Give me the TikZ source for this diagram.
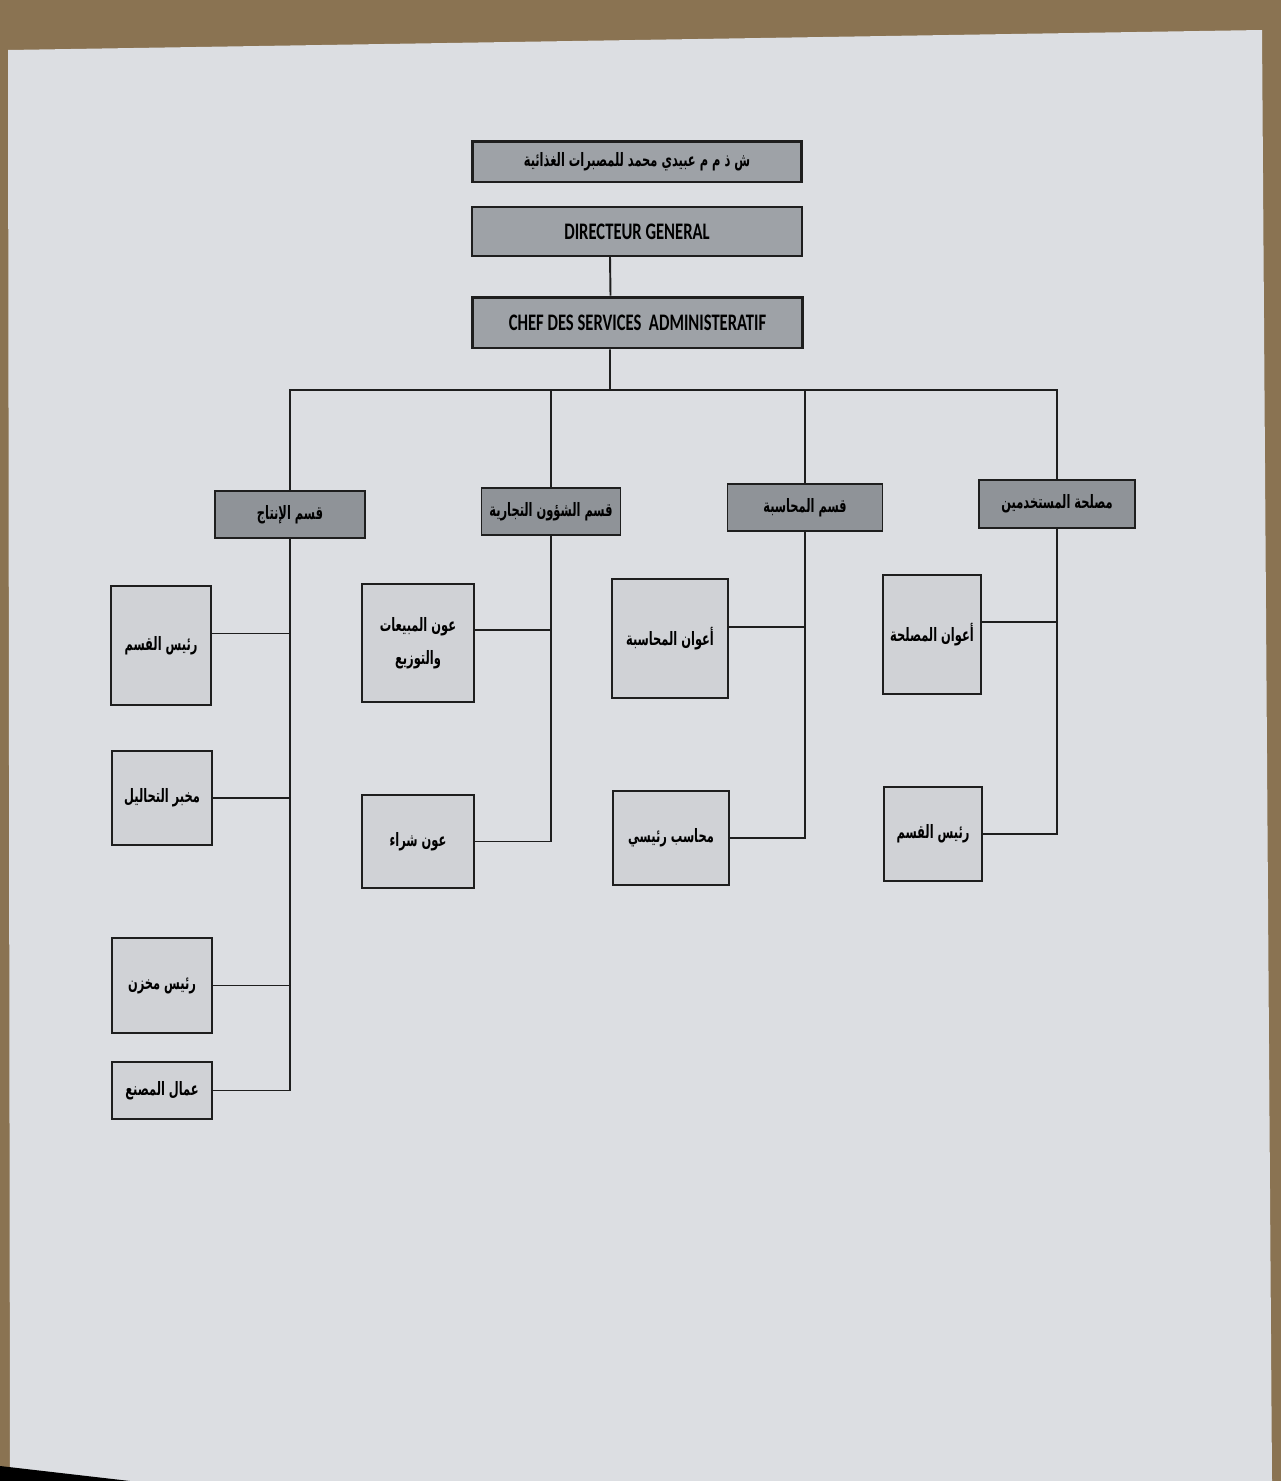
\documentclass[tikz,border=0pt]{standalone}
\usepackage{fontspec}
\setmainfont{Carlito}
\newfontfamily\narrowfont[FakeStretch=0.7]{Carlito}
\newfontfamily\arabicfont[Script=Arabic, FakeStretch=0.62]{DejaVu Sans}
\usepackage{tikz}
\usetikzlibrary{calc}
\TeXXeTstate=1
\definecolor{wood}{HTML}{8A7352}
\definecolor{paper}{HTML}{DCDEE2}
\definecolor{headgrey}{HTML}{9EA2A7}
\definecolor{deptgrey}{HTML}{8F9398}
\definecolor{boxgrey}{HTML}{D0D2D6}
\definecolor{ink}{HTML}{1E1E1E}

\begin{document}
\begin{tikzpicture}[x=0.02cm, y=-0.02cm,
		head/.style={draw=ink, fill=headgrey, line width=1.7pt, inner sep=0pt, minimum width=6.6cm, font=\narrowfont\bfseries\fontsize{13.5}{15}\selectfont},
		dept/.style={draw=ink, fill=deptgrey, line width=1.1pt, inner sep=0pt, minimum height=0.94cm, font=\arabicfont\bfseries\fontsize{10.5}{12}\selectfont},
		job/.style={draw=ink, fill=boxgrey, line width=1.1pt, inner sep=0pt, align=center, font=\arabicfont\bfseries\fontsize{10.5}{19}\selectfont},
		link/.style={draw=ink, line width=1.1pt}]
		\useasboundingbox (0,0) rectangle (1281,1481);
		% the sheet of paper
		\fill[wood] (0,0) rectangle (1281,1481);
		\fill[paper] (8,50) -- (1262,30) -- (1272,1481) -- (10,1481) -- cycle;
		\fill[black] (0,1466) -- (130,1481) -- (0,1481) -- cycle;
%
		\node[head, minimum height=0.82cm] (firm) at (637,161.5) {\arabicfont\bfseries\fontsize{10.5}{12}\selectfont\beginR ش ذ م م عبيدي محمد للمصبرات الغذائية\endR};
		\node[head, line width=1.1pt, minimum height=0.98cm] (dg) at (637,231.5) {DIRECTEUR GENERAL};
		\node[head, minimum height=1.02cm] (chef) at (637.5,322.5) {CHEF DES SERVICES\ \ ADMINISTERATIF};
%
		\node[dept, minimum width=3.0cm] (prod) at (290,514.5) {\beginR قسم الإنتاج\endR};
		\node[dept, minimum width=2.78cm] (comm) at (551,511.5) {\beginR قسم الشؤون التجارية\endR};
		\node[dept, minimum width=3.1cm] (acc) at (805,507.5) {\beginR قسم المحاسبة\endR};
		\node[dept, minimum width=3.12cm, minimum height=0.96cm] (staff) at (1057,504) {\beginR مصلحة المستخدمين\endR};
%
		\node[job, minimum width=2.0cm, minimum height=2.38cm] (p1) at (161,645.5) {\beginR رئيس القسم\endR};
		\node[job, minimum width=2.0cm, minimum height=1.88cm] (p2) at (162,798) {\beginR مخبر التحاليل\endR};
		\node[job, minimum width=2.0cm, minimum height=1.9cm] (p3) at (162,985.5) {\beginR رئيس مخزن\endR};
		\node[job, minimum width=2.0cm, minimum height=1.14cm] (p4) at (162,1090.5) {\beginR عمال المصنع\endR};
		\node[job, minimum width=2.24cm, minimum height=2.36cm] (c1) at (418,643) {\beginR عون المبيعات\endR\\\beginR والتوزيع\endR};
		\node[job, minimum width=2.24cm, minimum height=1.86cm] (c2) at (418,841.5) {\beginR عون شراء\endR};
		\node[job, minimum width=2.32cm, minimum height=2.38cm] (a1) at (670,638.5) {\beginR أعوان المحاسبة\endR};
		\node[job, minimum width=2.32cm, minimum height=1.88cm] (a2) at (671,838) {\beginR محاسب رئيسي\endR};
		\node[job, minimum width=1.96cm, minimum height=2.38cm] (s1) at (932,634.5) {\beginR أعوان المصلحة\endR};
		\node[job, minimum width=1.96cm, minimum height=1.88cm] (s2) at (933,834) {\beginR رئيس القسم\endR};
%
		\coordinate (bus) at (610,390);
		\draw[link] ([xshift=-0.54cm]dg.south) -- ([xshift=-0.54cm]chef.north);
		\draw[link] ([xshift=-0.55cm]chef.south) -- (bus);
		\draw[link] (prod.north) |- (bus) -| (staff.north);
		\draw[link] (comm.north) -- (comm.north |- bus);
		\draw[link] (acc.north) -- (acc.north |- bus);
%
		\draw[link] (prod.south) |- (p4.east);
		\draw[link] ([yshift=0.24cm]p1.east) -- ([yshift=0.24cm]p1.east -| prod.south)
			(p2.east) -- (p2.east -| prod.south)
			(p3.east) -- (p3.east -| prod.south);
		\draw[link] (comm.south) |- (c2.east);
		\draw[link] ([yshift=0.26cm]c1.east) -- ([yshift=0.26cm]c1.east -| comm.south);
		\draw[link] (acc.south) |- (a2.east);
		\draw[link] ([yshift=0.23cm]a1.east) -- ([yshift=0.23cm]a1.east -| acc.south);
		\draw[link] (staff.south) |- (s2.east);
		\draw[link] ([yshift=0.25cm]s1.east) -- ([yshift=0.25cm]s1.east -| staff.south);
	\end{tikzpicture}
\end{document}
